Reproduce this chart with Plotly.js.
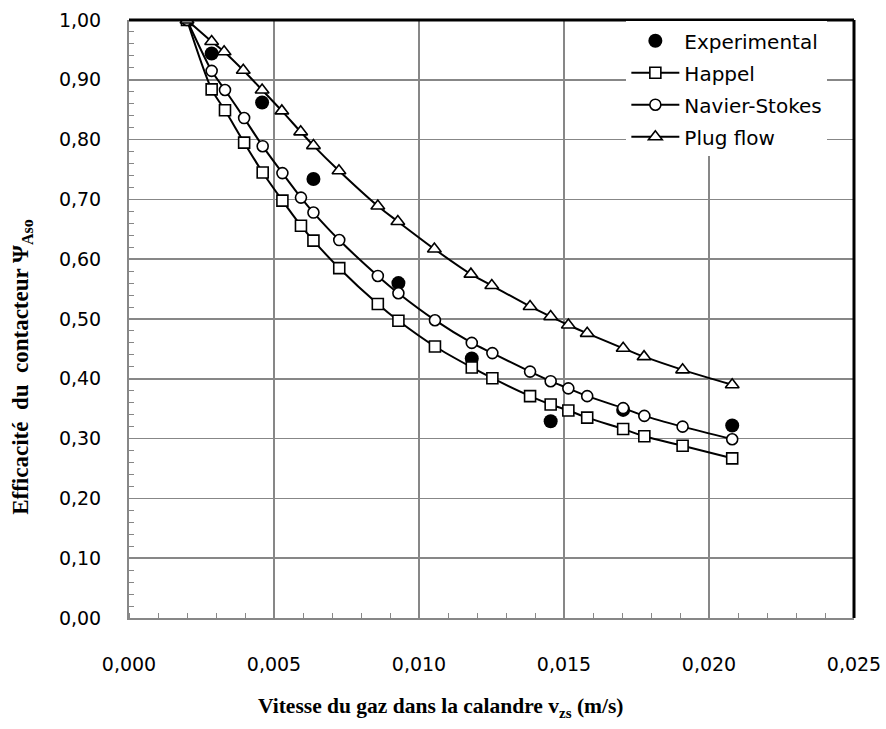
<!DOCTYPE html>
<html>
<head>
<meta charset="utf-8">
<script src="https://cdn.plot.ly/plotly-3.0.1.min.js"></script>
<style>html,body{margin:0;padding:0;background:#fff;}#chart{width:886px;height:729px;}</style>
</head>
<body>
<div id="chart"></div>
<script>
// ---- data ----
const expX = [0.00285, 0.00459, 0.00636, 0.00929, 0.01182, 0.01454, 0.01704, 0.0208];
const expY = [0.944, 0.862, 0.734, 0.560, 0.434, 0.329, 0.348, 0.322];

const modelX = [0.0020, 0.00285, 0.00331, 0.00397, 0.00461, 0.00529, 0.00593, 0.00636, 0.00725, 0.00858, 0.00929, 0.01055, 0.01182, 0.01253, 0.01383, 0.01454, 0.01515, 0.0158, 0.01704, 0.01777, 0.01909, 0.0208];
const happelY = [1.000, 0.884, 0.849, 0.795, 0.745, 0.698, 0.656, 0.631, 0.585, 0.525, 0.497, 0.454, 0.419, 0.401, 0.371, 0.357, 0.347, 0.335, 0.316, 0.304, 0.288, 0.267];
const navierY = [1.000, 0.915, 0.883, 0.836, 0.789, 0.744, 0.703, 0.678, 0.632, 0.572, 0.543, 0.498, 0.460, 0.443, 0.412, 0.396, 0.384, 0.371, 0.351, 0.338, 0.320, 0.299];

const plugX = [0.0020, 0.00285, 0.00328, 0.00394, 0.00459, 0.00527, 0.00592, 0.00636, 0.00724, 0.00858, 0.00927, 0.01053, 0.01179, 0.01251, 0.01383, 0.01454, 0.01515, 0.0158, 0.01704, 0.01776, 0.01909, 0.0208];
const plugY = [1.000, 0.964, 0.947, 0.916, 0.883, 0.848, 0.813, 0.790, 0.748, 0.689, 0.663, 0.617, 0.575, 0.556, 0.521, 0.504, 0.490, 0.476, 0.451, 0.437, 0.415, 0.390];

const names = ["Experimental", "Happel", "Navier-Stokes", "Plug flow"];
const xTickVals = [0, 0.005, 0.010, 0.015, 0.020, 0.025];
const yTickVals = [0, 0.1, 0.2, 0.3, 0.4, 0.5, 0.6, 0.7, 0.8, 0.9, 1.0];

const lineStyle = {color: "#000", width: 2, shape: "spline", smoothing: 0.8};
const openMarker = (sym, size) => ({symbol: sym, size: size, color: "#fff", line: {color: "#000", width: 1.6}});

const traces = [
  {x: expX, y: expY, name: names[0], legendgroup: "g0", mode: "markers", type: "scatter",
   marker: {symbol: "circle", size: 14, color: "#000", line: {width: 0}}},
  {x: modelX, y: happelY, name: names[1], legendgroup: "g1", mode: "lines+markers", type: "scatter",
   line: lineStyle, marker: openMarker("square", 11)},
  {x: modelX, y: navierY, name: names[2], legendgroup: "g2", mode: "lines+markers", type: "scatter",
   line: lineStyle, marker: openMarker("circle", 11)},
  {x: plugX, y: plugY, name: names[3], legendgroup: "g3", mode: "lines+markers", type: "scatter",
   line: lineStyle, marker: openMarker("triangle-up", 12)}
];

const tickFont = {family: "DejaVu Sans, sans-serif", size: 19, color: "#000"};

const layout = {
  width: 886, height: 729,
  margin: {l: 129, r: 32, t: 20, b: 111, pad: 0},
  paper_bgcolor: "#fff", plot_bgcolor: "#fff",
  separators: ", ",
  showlegend: true,
  legend: {x: 0.686, xanchor: "left", y: 0.998, yanchor: "top",
           bgcolor: "#fff", borderwidth: 0,
           font: {family: "DejaVu Sans, sans-serif", size: 20, color: "#000"},
           tracegroupgap: 3, itemwidth: 48},
  xaxis: {range: [0, 0.025], tickvals: xTickVals, tickformat: ".3f",
          showgrid: true, gridcolor: "#878787", gridwidth: 1.5,
          showline: true, linecolor: "#878787", linewidth: 2,
          zeroline: false, ticks: "", tickfont: tickFont, ticklabelstandoff: 28,
          minor: {dtick: 0.001, ticks: "inside", ticklen: 5, tickcolor: "#878787", tickwidth: 1, showgrid: false},
          fixedrange: true},
  yaxis: {range: [0, 1.0], tickvals: yTickVals, tickformat: ".2f",
          showgrid: true, gridcolor: "#878787", gridwidth: 1.5,
          showline: true, linecolor: "#878787", linewidth: 2,
          zeroline: false, ticks: "", tickfont: tickFont, ticklabelstandoff: 22,
          minor: {dtick: 0.02, ticks: "inside", ticklen: 5, tickcolor: "#878787", tickwidth: 1, showgrid: false},
          fixedrange: true},
  shapes: [
    {type: "line", xref: "paper", yref: "paper", x0: 0, x1: 1, y0: 1, y1: 1, line: {color: "#000", width: 3}},
    {type: "line", xref: "paper", yref: "paper", x0: 1, x1: 1, y0: 0, y1: 1, line: {color: "#000", width: 3}}
  ],
  annotations: [
    {xref: "paper", yref: "paper", x: 0.430, y: -0.150, xanchor: "center", yanchor: "middle",
     showarrow: false, text: "<b>Vitesse du gaz dans la calandre v<sub>zs</sub> (m/s)</b>",
     font: {family: "Liberation Serif, Times New Roman, serif", size: 21.5, color: "#000"}},
    {xref: "paper", yref: "paper", x: -0.1476, y: 0.42, xanchor: "center", yanchor: "middle",
     showarrow: false, textangle: -90,
     text: "<b>Efficacité&nbsp;&nbsp;du&nbsp;&nbsp;contacteur Ψ<sub>Aso</sub></b>",
     font: {family: "Liberation Serif, Times New Roman, serif", size: 23, color: "#000"}}
  ]
};

Plotly.newPlot("chart", traces, layout, {displayModeBar: false, staticPlot: true});
</script>
</body>
</html>
